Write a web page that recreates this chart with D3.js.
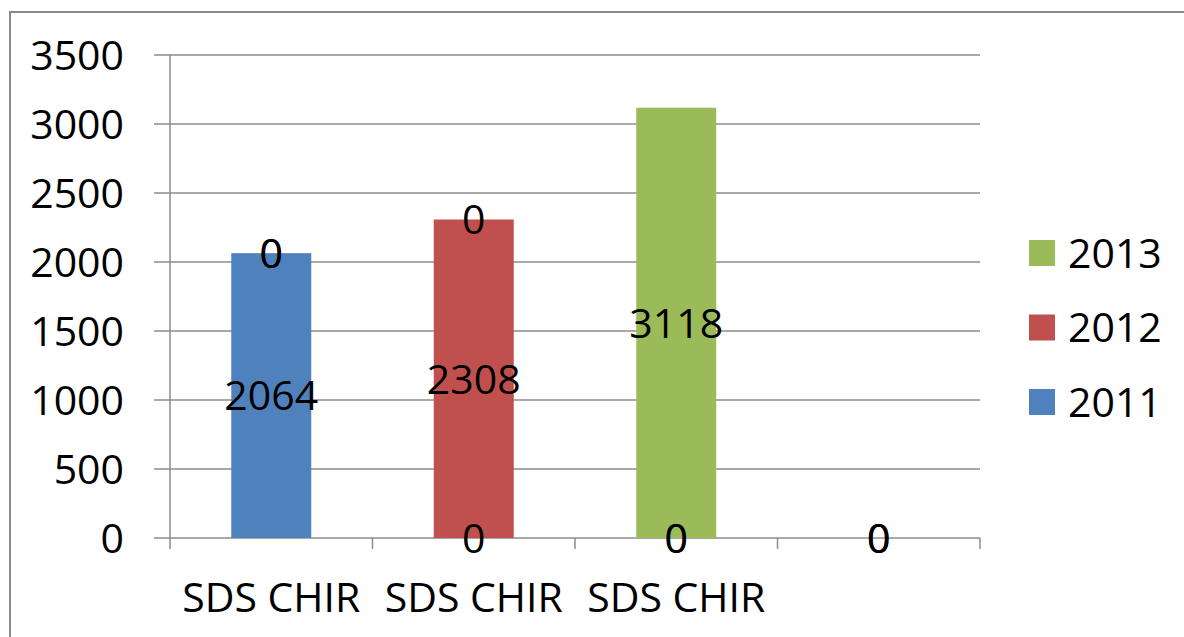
<!DOCTYPE html>
<html>
<head>
<meta charset="utf-8">
<script src="https://cdn.jsdelivr.net/npm/d3@7"></script>
<style>
  html, body { margin: 0; padding: 0; background: #fff; }
  svg { display: block; }
  text { font-family: "Open Sans", "Noto Sans", sans-serif; fill: #000; }
</style>
</head>
<body>
<svg id="chart" width="1184" height="637"></svg>
<script>
// Categories along the x axis (the fourth slot has no label)
const categories = ["SDS CHIR", "SDS CHIR", "SDS CHIR", ""];
// Series values per category
const series2011 = [2064, 0, 0, 0];
const series2012 = [0, 2308, 0, 0];
const series2013 = [0, 0, 3118, 0];
const seriesNames = ["2011", "2012", "2013"];
const seriesColors = ["#4F81BD", "#C0504D", "#9BBB59"];
const yTicks = [0, 500, 1000, 1500, 2000, 2500, 3000, 3500];

const svg = d3.select("#chart");
const W = 1184, H = 637;
const plot = { left: 170, right: 980, top: 55, bottom: 538 };
const fontSize = 41;

// Outer frame (only top and left edges fall inside the view)
svg.append("rect")
  .attr("x", 10).attr("y", 12)
  .attr("width", W + 20).attr("height", H + 20)
  .attr("fill", "#fff")
  .attr("stroke", "#8a8a8a").attr("stroke-width", 2);

const rows = categories.map((c, i) => ({
  idx: i, cat: c,
  "2011": series2011[i], "2012": series2012[i], "2013": series2013[i]
}));

const x = d3.scaleBand()
  .domain(rows.map(r => r.idx))
  .range([plot.left, plot.right])
  .paddingInner(0.605).paddingOuter(0.3025);

const xOuter = d3.scaleBand()
  .domain(rows.map(r => r.idx))
  .range([plot.left, plot.right]);

const y = d3.scaleLinear().domain([0, 3500]).range([plot.bottom, plot.top]);

// Horizontal gridlines with short ticks left of the axis
svg.append("g").selectAll("line").data(yTicks).join("line")
  .attr("x1", plot.left - 16).attr("x2", plot.right)
  .attr("y1", d => y(d)).attr("y2", d => y(d))
  .attr("stroke", "#8c8c8c").attr("stroke-width", 1.5);

// Vertical axis line
svg.append("line")
  .attr("x1", plot.left).attr("x2", plot.left)
  .attr("y1", plot.top).attr("y2", plot.bottom)
  .attr("stroke", "#8c8c8c").attr("stroke-width", 1.5);

// Category divider ticks below the baseline
const tickXs = rows.map(r => xOuter(r.idx)).concat([plot.right]);
svg.append("g").selectAll("line").data(tickXs).join("line")
  .attr("x1", d => d).attr("x2", d => d)
  .attr("y1", plot.bottom).attr("y2", plot.bottom + 11)
  .attr("stroke", "#8c8c8c").attr("stroke-width", 1.5);

// Y tick labels
svg.append("g").selectAll("text").data(yTicks).join("text")
  .attr("x", 124).attr("y", d => y(d))
  .attr("dy", "0.36em")
  .attr("text-anchor", "end")
  .attr("font-size", fontSize)
  .text(d => d);

// Stacked bars
const stack = d3.stack().keys(seriesNames);
const layers = stack(rows);

const layerG = svg.append("g").selectAll("g").data(layers).join("g")
  .attr("fill", (d, i) => seriesColors[i]);

layerG.selectAll("rect").data(d => d).join("rect")
  .attr("x", d => x(d.data.idx))
  .attr("width", x.bandwidth())
  .attr("y", d => y(d[1]))
  .attr("height", d => y(d[0]) - y(d[1]));

// Data labels centred on each segment
const labelG = svg.append("g");
layers.forEach(layer => {
  labelG.selectAll(null).data(layer).join("text")
    .attr("x", d => x(d.data.idx) + x.bandwidth() / 2)
    .attr("y", d => y((d[0] + d[1]) / 2))
    .attr("dy", "0.36em")
    .attr("text-anchor", "middle")
    .attr("font-size", fontSize)
    .text(d => d.data[layer.key]);
});

// Category labels
svg.append("g").selectAll("text").data(rows).join("text")
  .attr("x", d => xOuter(d.idx) + xOuter.bandwidth() / 2)
  .attr("y", 612)
  .attr("text-anchor", "middle")
  .attr("font-size", fontSize)
  .text(d => d.cat);

// Legend (latest year on top)
const legendItems = seriesNames.map((n, i) => ({ name: n, color: seriesColors[i] })).reverse();
const legend = svg.append("g").selectAll("g").data(legendItems).join("g")
  .attr("transform", (d, i) => `translate(1029, ${240 + i * 74.5})`);
legend.append("rect")
  .attr("width", 26).attr("height", 26)
  .attr("fill", d => d.color);
legend.append("text")
  .attr("x", 39).attr("y", 13)
  .attr("dy", "0.36em")
  .attr("font-size", fontSize)
  .text(d => d.name);
</script>
</body>
</html>
